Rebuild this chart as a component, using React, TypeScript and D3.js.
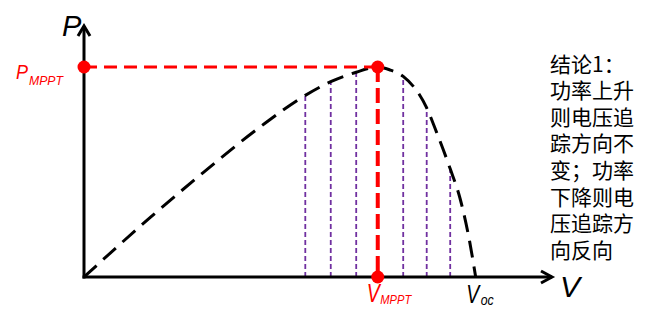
import React from "react";
import * as d3 from "d3";

// P–V curve (voltage, power)
const curveV = [0, 17, 29, 45, 56.5, 63, 69.5, 75, 78, 81.5, 87.5, 90, 93.5, 96, 98.5, 100];
const curveP = [0, 28.5, 47.5, 71.5, 86.5, 93, 97.5, 100, 98.7, 95.5, 80.5, 69, 51.5, 37.5, 16.5, 0];
// tracking steps (purple dotted lines)
const trackV = [56.5, 63, 69.5, 81.5, 87.5, 93.5];
// maximum power point
const mppV = 75;
const mppP = 100;
const vocV = 100;
const noteLines = ["结论1：", "功率上升", "则电压追", "踪方向不", "变；功率", "下降则电", "压追踪方", "向反向"];

const W = 654;
const H = 325;
const LATIN = "'Liberation Sans', Arial, sans-serif";
const CJK = "'Noto Sans CJK SC', sans-serif";

export default function App() {
  const x = d3.scaleLinear().domain([0, 120]).range([84, 554]);
  const y = d3.scaleLinear().domain([0, 120]).range([277, 25]);
  const pts = curveV.map((v, i) => [v, curveP[i]] as [number, number]);
  const lookup = new Map(pts.map(([v, p]) => [v, p]));
  const line = d3
    .line<[number, number]>()
    .x((d) => x(d[0]))
    .y((d) => y(d[1]))
    .curve(d3.curveMonotoneX);

  const x0 = x(0);
  const y0 = y(0);
  const xEnd = x.range()[1] - 2;
  const yTop = y.range()[1] + 1;
  const xm = x(mppV);
  const xv = x(vocV);

  return (
    <svg width={W} height={H} style={{ position: "absolute", left: 0, top: 0, background: "#fff" }}>
      {/* tracking lines */}
      {trackV.map((v) => (
        <line
          key={v}
          x1={x(v)}
          x2={x(v)}
          y1={y0}
          y2={y(lookup.get(v) ?? 0)}
          stroke="#7030A0"
          strokeWidth={1.8}
          strokeDasharray="5 3"
        />
      ))}
      {/* P-V curve */}
      <path d={line(pts) ?? ""} fill="none" stroke="#000" strokeWidth={3} strokeDasharray="17 9" />
      {/* MPP guides */}
      <line x1={x0} x2={xm} y1={y(mppP)} y2={y(mppP)} stroke="#FF0000" strokeWidth={3} strokeDasharray="13 7" />
      <line x1={xm} x2={xm} y1={y(mppP)} y2={y0} stroke="#FF0000" strokeWidth={4} strokeDasharray="15 6" />
      {/* axes */}
      <line x1={x0} x2={x0} y1={y0 + 1.5} y2={yTop} stroke="#000" strokeWidth={3} />
      <polyline
        points={`${x0 - 6},${yTop + 10} ${x0},${yTop} ${x0 + 6},${yTop + 10}`}
        fill="none"
        stroke="#000"
        strokeWidth={3}
      />
      <line x1={x0 - 1.5} x2={xEnd} y1={y0} y2={y0} stroke="#000" strokeWidth={3} />
      <polyline
        points={`${xEnd - 11},${y0 - 6} ${xEnd},${y0} ${xEnd - 11},${y0 + 6}`}
        fill="none"
        stroke="#000"
        strokeWidth={3}
      />
      {/* dots */}
      <circle cx={x0} cy={y(mppP)} r={6.5} fill="#FF0000" />
      <circle cx={xm} cy={y(mppP)} r={6.5} fill="#FF0000" />
      <circle cx={xm} cy={y0} r={6.5} fill="#FF0000" />

      {/* axis labels */}
      <text x={62} y={36} fontFamily={LATIN} fontStyle="italic" fontSize={29} fill="#000">P</text>
      <text x={560} y={297} fontFamily={LATIN} fontStyle="italic" fontSize={30} fill="#000">V</text>

      {/* P_MPPT */}
      <text fontFamily={LATIN} fontStyle="italic" fill="#FF0000">
        <tspan x={16} y={78.5} fontSize={21} textLength={12} lengthAdjust="spacingAndGlyphs">P</tspan>
        <tspan x={29} y={85} fontSize={12} textLength={34} lengthAdjust="spacingAndGlyphs">MPPT</tspan>
      </text>

      {/* V_MPPT */}
      <text fontFamily={LATIN} fontStyle="italic" fill="#FF0000">
        <tspan x={xm - 11} y={302} fontSize={26} textLength={13} lengthAdjust="spacingAndGlyphs">V</tspan>
        <tspan x={xm + 2.5} y={303.5} fontSize={12} textLength={31} lengthAdjust="spacingAndGlyphs">MPPT</tspan>
      </text>

      {/* V_oc */}
      <text fontFamily={LATIN} fontStyle="italic" fill="#000">
        <tspan x={xv - 9.5} y={302.5} fontSize={26} textLength={13} lengthAdjust="spacingAndGlyphs">V</tspan>
        <tspan x={xv + 5} y={304.5} fontSize={14} textLength={13} lengthAdjust="spacingAndGlyphs">oc</tspan>
      </text>

      {/* note */}
      <text fontFamily={CJK} fontSize={21} fill="#000">
        {noteLines.map((t, i) => (
          <tspan key={i} x={550} y={71.5 + i * 26.6}>
            {t}
          </tspan>
        ))}
      </text>
    </svg>
  );
}
